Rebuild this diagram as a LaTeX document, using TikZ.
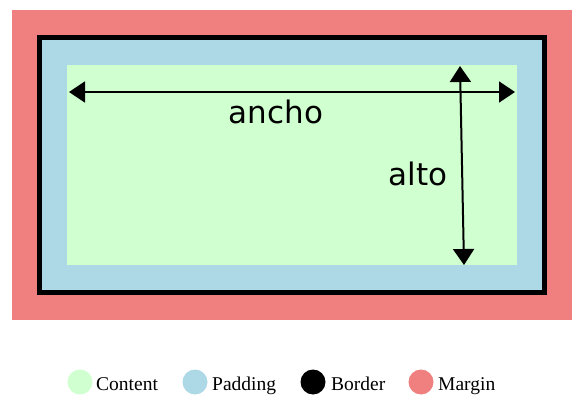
\documentclass[tikz,border=0pt]{standalone}
\usepackage{fontspec}
\setmainfont{Liberation Serif}
\newfontfamily\dimfont{DejaVu Sans}
\usetikzlibrary{arrows.meta,positioning}
\definecolor{contentgreen}{HTML}{D0FFD0}
\definecolor{paddingblue}{HTML}{ADD8E6}
\definecolor{margincoral}{HTML}{F08080}
\tikzset{
  dimarrow/.style={line width=2pt,{Triangle[length=16pt,width=21pt]}-{Triangle[length=16pt,width=21pt]}},
  dimlabel/.style={font=\dimfont\fontsize{31}{36}\selectfont,inner sep=0pt,anchor=base},
  swatch/.style={circle,minimum size=25pt,inner sep=0pt},
  keytext/.style={font=\fontsize{19.5}{22}\selectfont,anchor=base west,inner sep=0pt}
}
\begin{document}
\begin{tikzpicture}[x=1pt,y=-1pt]
\useasboundingbox (0,0) rectangle (584,404);
\fill[margincoral] (12,10) rectangle (572,320);
\fill[paddingblue] (42,40) rectangle (542,290);
\draw[line width=5pt] (39.5,37.5) rectangle (544.5,292.5);
\fill[contentgreen] (67,65) rectangle (517,265);

\coordinate (wl) at (69,92);
\coordinate (wr) at (515,92);
\coordinate (ht) at (460,66);
\coordinate (hb) at (464,265);
\draw[dimarrow] (wl)--(wr);
\draw[dimarrow] (ht)--(hb);
\node[dimlabel] (ancho) at (276,123) {ancho};
\node[dimlabel] (alto) at (418,185) {alto};

\node[swatch,fill=contentgreen] (kcontent) at (80,382) {};
\node[keytext] (tcontent) at (96,390) {Content};
\node[swatch,fill=paddingblue] (kpadding) at (195,382) {};
\node[keytext] (tpadding) at (212,390) {Padding};
\node[swatch,fill=black] (kborder) at (313,382) {};
\node[keytext] (tborder) at (331,390) {Border};
\node[swatch,fill=margincoral] (kmargin) at (421,382) {};
\node[keytext] (tmargin) at (438,390) {Margin};
\end{tikzpicture}
\end{document}
